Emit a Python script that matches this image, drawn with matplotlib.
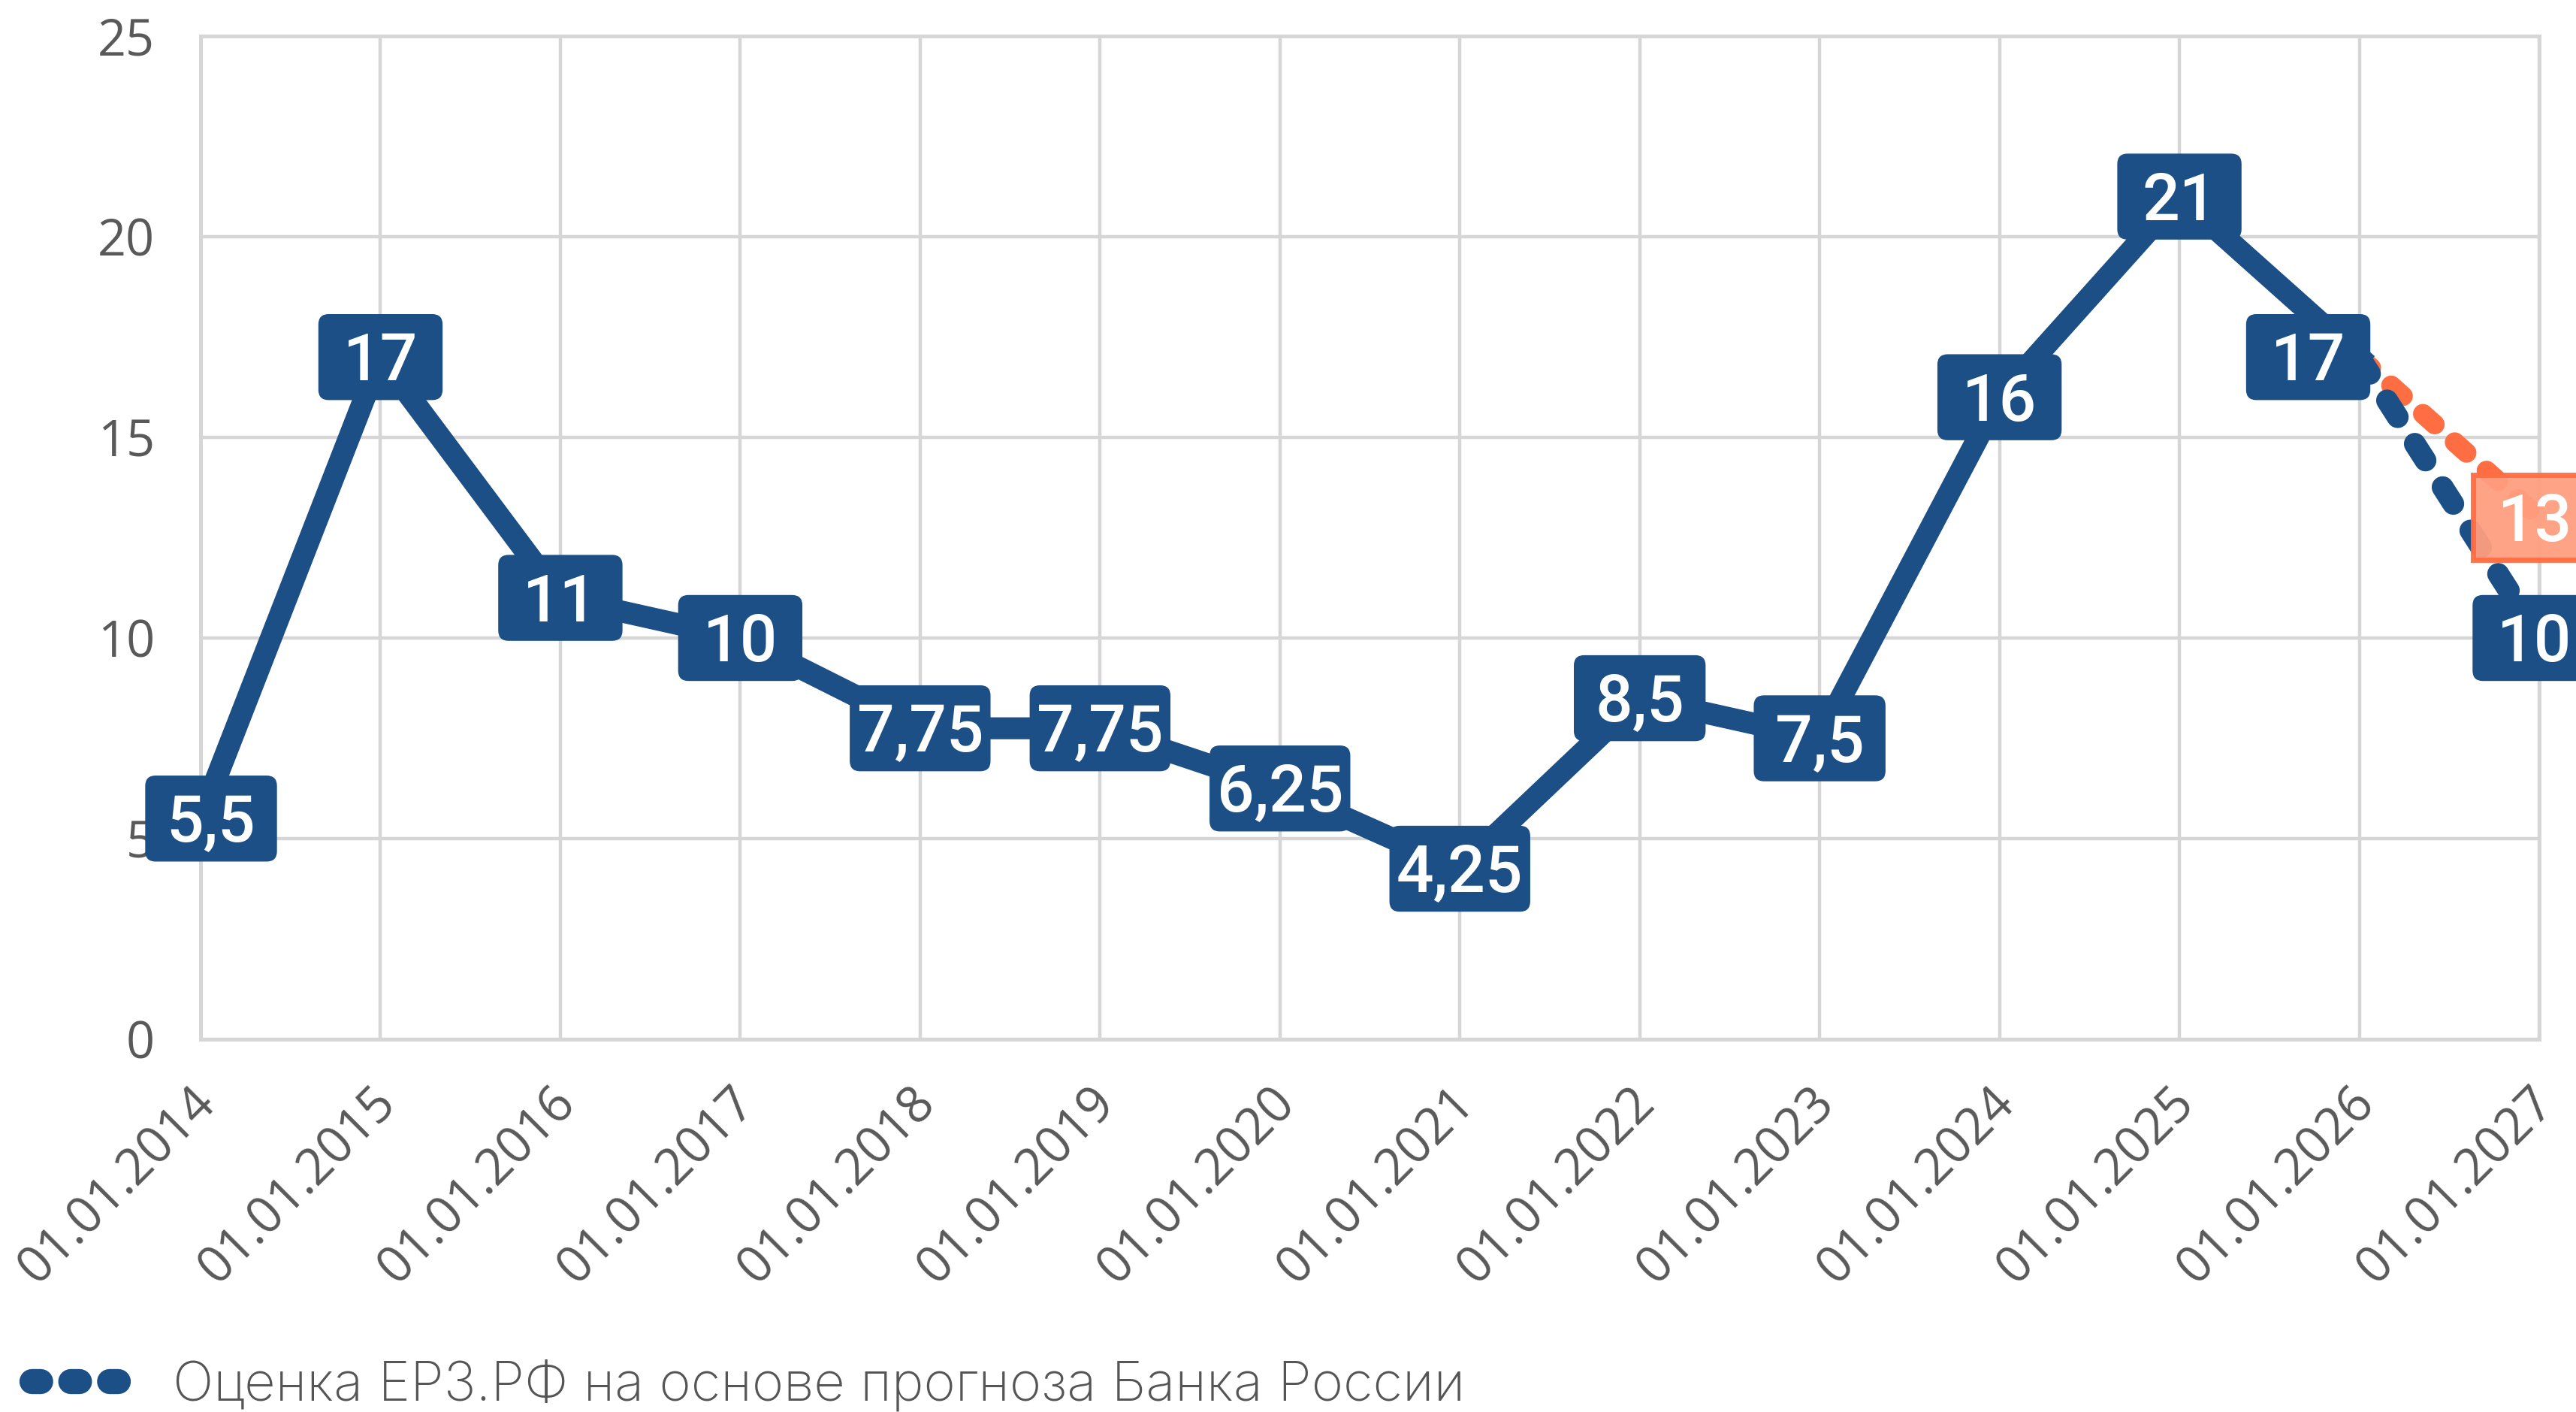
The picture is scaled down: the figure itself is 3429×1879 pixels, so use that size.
import matplotlib.pyplot as plt
from matplotlib.lines import Line2D
from matplotlib.patches import FancyBboxPatch
from matplotlib.transforms import ScaledTranslation

dates = ["01.01.2014", "01.01.2015", "01.01.2016", "01.01.2017", "01.01.2018",
         "01.01.2019", "01.01.2020", "01.01.2021", "01.01.2022", "01.01.2023",
         "01.01.2024", "01.01.2025", "01.01.2026", "01.01.2027"]
key_rate = [5.5, 17, 11, 10, 7.75, 7.75, 6.25, 4.25, 8.5, 7.5, 16, 21, 17]
forecast_base = [17, 10]
forecast_alt = [17, 13]
legend_label = "Оценка ЕРЗ.РФ на основе прогноза Банка России"

BLUE = "#1B4F86"
ORANGE = "#FF6D42"
SALMON = "#FF9E80"
GRID = "#D6D6D6"
TICK = "#595959"
DPI = 200


def fmt(v):
    return f"{v:g}".replace(".", ",")


fig = plt.figure(figsize=(3430 / DPI, 1879 / DPI), dpi=DPI)
ax = fig.add_axes([267 / 3430, 1 - 1383 / 1879, 3113 / 3430, 1335 / 1879])

x = list(range(len(key_rate)))
x_fc = [len(key_rate) - 1, len(key_rate)]

ax.plot(x_fc, forecast_alt, color=ORANGE, lw=9.5, dashes=(0.8, 1.35),
        dash_capstyle="round", zorder=3)
ax.plot(x_fc, forecast_base, color=BLUE, lw=10.5, dashes=(0.9, 1.45),
        dash_capstyle="round", zorder=3)
ax.plot(x, key_rate, color=BLUE, lw=10.5, solid_joinstyle="miter", zorder=4)


def value_label(xv, yv, text, fc=BLUE, ec=BLUE, dx=0.0, square=False, alpha=1.0):
    # fixed-size box in inches, pinned to the data point
    w = {2: 0.82, 3: 0.87}.get(len(text), 0.93)
    h = 0.565
    trans = fig.dpi_scale_trans + ScaledTranslation(xv, yv, ax.transData)
    style = "square,pad=0" if square else "round,pad=0,rounding_size=0.065"
    box = FancyBboxPatch((dx - w / 2, -h / 2), w, h, boxstyle=style, transform=trans,
                         fc=fc, ec=ec, lw=2.5 if square else 0.5, alpha=alpha,
                         clip_on=False, zorder=5)
    ax.add_artist(box)
    ax.annotate(text, (xv, yv), xytext=(dx * 72, -11.2), textcoords="offset points",
                ha="center", va="baseline", color="white", fontsize=31.5,
                fontfamily="Roboto", fontweight="medium", zorder=6,
                annotation_clip=False)


for i, v in enumerate(key_rate):
    dx = 0.0
    if i == 0:
        dx = 0.07
    elif i == len(key_rate) - 1:
        dx = -0.34
    value_label(i, v, fmt(v), dx=dx)

value_label(x_fc[-1], forecast_alt[-1], fmt(forecast_alt[-1]), fc=SALMON, ec=ORANGE,
            dx=-0.03, square=True, alpha=0.95)
value_label(x_fc[-1], forecast_base[-1], fmt(forecast_base[-1]), dx=-0.03)

ax.set_xlim(0, len(dates) - 1)
ax.set_ylim(0, 25)
ax.set_yticks(range(0, 26, 5))
ax.set_xticks(range(len(dates)))
ax.set_xticklabels(dates, rotation=45, ha="right", va="center", rotation_mode="anchor")
ax.tick_params(length=0, colors=TICK, labelsize=24)
ax.tick_params(axis="y", pad=22)
ax.tick_params(axis="x", pad=27)
shift = ScaledTranslation(0.05, 0, fig.dpi_scale_trans)
for lab in ax.get_xticklabels():
    lab.set_fontfamily("Open Sans")
    lab.set_transform(lab.get_transform() + shift)
for lab in ax.get_yticklabels():
    lab.set_fontfamily("Open Sans")

ax.grid(True, color=GRID, lw=1.6)
ax.set_axisbelow(True)
for s in ax.spines.values():
    s.set_color(GRID)
    s.set_linewidth(1.8)

handle = Line2D([], [], color=BLUE, lw=12, dashes=(0.35, 1.2), dash_capstyle="round")
fig.legend([handle], [legend_label], loc="center left",
           bbox_to_anchor=(42 / 3430, 1 - 1844 / 1879), frameon=False,
           borderpad=0, borderaxespad=0, handlelength=1.6, handletextpad=1.0,
           prop={"family": "Inter", "weight": "light", "size": 26}, labelcolor="#555555")

fig.savefig("out.png", dpi=DPI)
